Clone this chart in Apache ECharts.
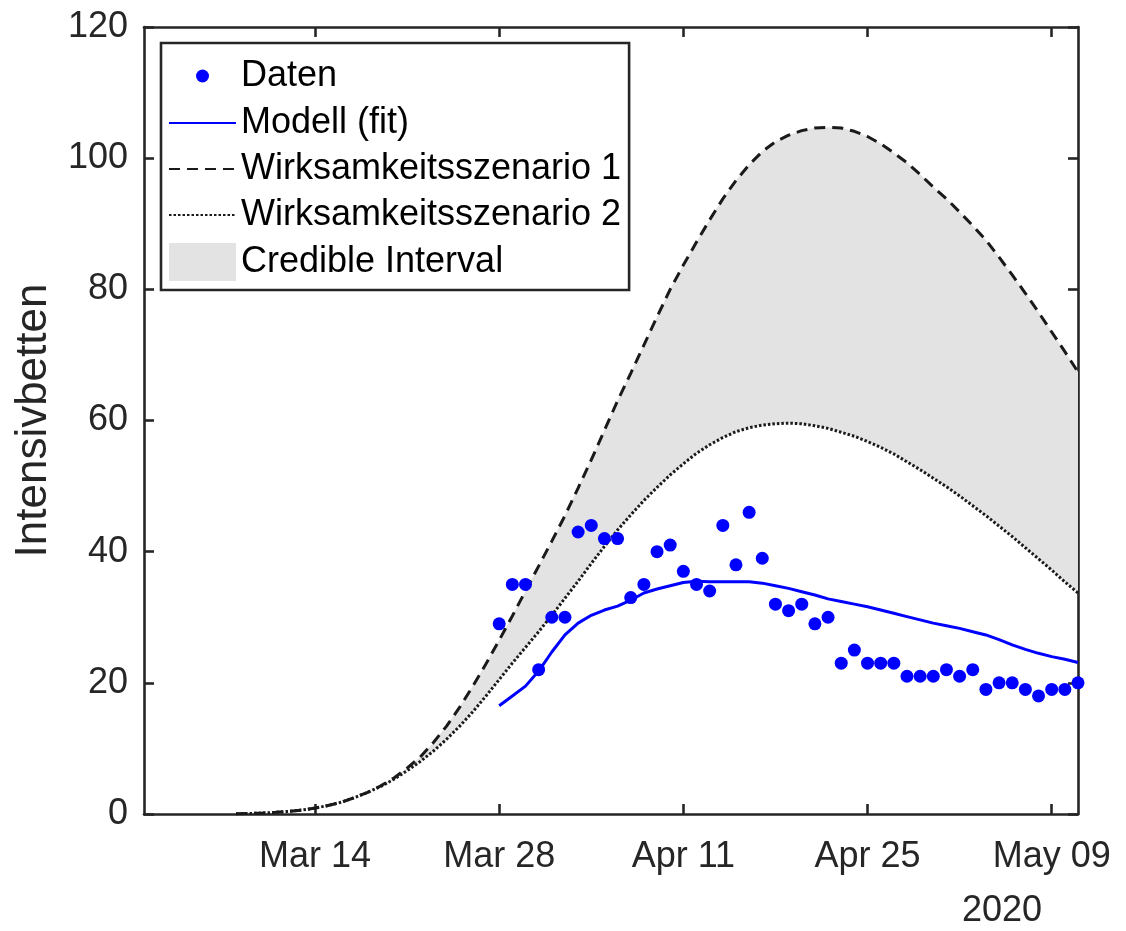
<!DOCTYPE html>
<html><head><meta charset="utf-8">
<script src="https://cdn.jsdelivr.net/npm/echarts@6/dist/echarts.min.js"></script>
<style>html,body{margin:0;padding:0;background:#fff}#c{width:1126px;height:931px}</style>
</head><body><div id="c"></div><script>
// ---- data ----
const axisStart = '2020-03-01';
const axisEnd = '2020-05-11';
const tickDates = ['2020-03-14', '2020-03-28', '2020-04-11', '2020-04-25', '2020-05-09'];
const tickLabels = ['Mar 14', 'Mar 28', 'Apr 11', 'Apr 25', 'May 09'];
const yearLabel = '2020';
const yMin = 0, yMax = 120, yStep = 20;

// daily observations starting 2020-03-28
const dataStart = '2020-03-28';
const observed = [29, 35, 35, 22,
  30, 30, 43, 44, 42, 42, 33, 35, 40, 41,
  37, 35, 34, 44, 38, 46, 39, 32, 31, 32,
  29, 30, 23, 25, 23, 23, 23, 21, 21, 21,
  22, 21, 22, 19, 20, 20, 19, 18, 19, 19, 20];
const modelFit = [16.5, 18.0, 19.5, 21.8,
  24.7, 27.3, 29.1, 30.3, 31.1, 31.7, 32.6, 33.7, 34.3, 34.8,
  35.3, 35.5, 35.4, 35.4, 35.4, 35.4, 35.2, 34.8, 34.4, 33.9,
  33.4, 32.8, 32.4, 32.0, 31.6, 31.1, 30.6, 30.1, 29.6, 29.1,
  28.7, 28.3, 27.8, 27.3, 26.6, 25.8, 25.1, 24.5, 24.0, 23.6, 23.1];

// scenario curves, daily from 2020-03-08
const scenarioStart = '2020-03-08';
const scenario1 = [0.04, 0.08, 0.15, 0.25, 0.4, 0.6, 0.9, 1.3, 1.8, 2.5,
  3.3, 4.3, 5.5, 7.0, 8.7, 10.9, 13.4, 16.3, 19.5, 22.9,
  26.5, 30.2, 34.0, 37.8, 41.6, 45.5, 49.7, 54.0, 58.5, 63.0,
  67.2, 71.5, 75.8, 80.0, 83.7, 87.2, 90.6, 93.8, 96.6, 99.0,
  101.0, 102.5, 103.5, 104.2, 104.6, 104.7, 104.6, 104.1, 103.3, 102.2,
  100.8, 99.3, 97.5, 95.6, 93.8, 91.8, 89.7, 87.5, 84.9, 82.2,
  79.4, 76.5, 73.5, 70.5, 67.4];
const scenario2 = [0.04, 0.08, 0.15, 0.25, 0.4, 0.6, 0.9, 1.3, 1.8, 2.5,
  3.3, 4.2, 5.3, 6.6, 8.0, 9.6, 11.4, 13.4, 15.6, 18.0,
  20.5, 23.0, 25.4, 27.8, 30.3, 32.9, 35.5, 38.2, 40.8, 43.3,
  45.6, 47.8, 49.8, 51.7, 53.4, 55.0, 56.3, 57.4, 58.3, 58.9,
  59.3, 59.5, 59.6, 59.5, 59.2, 58.8, 58.2, 57.6, 56.8, 55.9,
  54.9, 53.7, 52.5, 51.2, 49.9, 48.5, 47.0, 45.5, 43.9, 42.3,
  40.6, 38.9, 37.2, 35.4, 33.7];

// ---- helpers ----
const DAY = 86400000;
const origin = Date.parse(axisStart);
const dayIdx = s => Math.round((Date.parse(s) - origin) / DAY);
const tickVals = tickDates.map(dayIdx);
const d0 = dayIdx(dataStart), s0 = dayIdx(scenarioStart);

const FONT = "'Liberation Sans', Arial, Helvetica, sans-serif";
const AX = '#262626';
const AXW = 2.6;

const obsData = observed.map((v, i) => [d0 + i, v]);
const fitData = modelFit.map((v, i) => [d0 + i, v]);
const s1Data = scenario1.map((v, i) => [s0 + i, v]);
const s2Data = scenario2.map((v, i) => [s0 + i, v]);

const chart = echarts.init(document.getElementById('c'), null, {renderer: 'canvas'});

function xAxisDef(pos, showLabel) {
  return {
    type: 'value', position: pos, min: dayIdx(axisStart), max: dayIdx(axisEnd),
    axisLine: {show: true, onZero: false, lineStyle: {color: AX, width: AXW}},
    axisTick: {show: true, inside: true, length: 10, customValues: tickVals, lineStyle: {color: AX, width: AXW}},
    splitLine: {show: false},
    axisLabel: showLabel ? {
      show: true, customValues: tickVals, margin: 25,
      fontSize: 36, fontFamily: FONT, color: AX,
      formatter: v => tickLabels[tickVals.indexOf(Math.round(v))] || ''
    } : {show: false}
  };
}
function yAxisDef(pos, showLabel) {
  const a = {
    type: 'value', position: pos, min: yMin, max: yMax, interval: yStep,
    axisLine: {show: true, onZero: false, lineStyle: {color: AX, width: AXW}},
    axisTick: {show: true, inside: true, length: 10, lineStyle: {color: AX, width: AXW}},
    splitLine: {show: false},
    axisLabel: showLabel ? {show: true, margin: 16, fontSize: 36, fontFamily: FONT, color: AX} : {show: false}
  };
  if (showLabel) {
    a.name = 'Intensivbetten';
    a.nameLocation = 'middle';
    a.nameRotate = 90;
    a.nameGap = 88;
    a.nameTextStyle = {fontSize: 44, fontFamily: FONT, color: AX};
  }
  return a;
}

chart.setOption({
  animation: false,
  backgroundColor: '#fff',
  grid: {left: 144, right: 48, top: 27, bottom: 117, containLabel: false, outerBoundsMode: 'none'},
  xAxis: [xAxisDef('bottom', true), xAxisDef('top', false)],
  yAxis: [yAxisDef('left', true), yAxisDef('right', false)],
  legend: {
    orient: 'vertical', left: 161, top: 43,
    padding: [14, 8, 9, 7],
    itemWidth: 67, itemHeight: 38, itemGap: 10,
    backgroundColor: '#fff', borderColor: AX, borderWidth: 2.6,
    selectedMode: false,
    textStyle: {fontSize: 36, fontFamily: FONT, color: '#000'},
    data: [
      {name: 'Daten', icon: 'path://M0,0M67,38M27,19A6.5,6.5 0 1 0 40,19A6.5,6.5 0 1 0 27,19Z', itemStyle: {color: '#0000ff', opacity: 1}},
      {name: 'Modell (fit)', itemStyle: {opacity: 0}},
      {name: 'Wirksamkeitsszenario 1', itemStyle: {opacity: 0}},
      {name: 'Wirksamkeitsszenario 2', itemStyle: {opacity: 0}},
      {name: 'Credible Interval', icon: 'rect', itemStyle: {color: '#e3e3e3', opacity: 1}}
    ]
  },
  graphic: [{
    type: 'text', left: 962, top: 893, z: 100,
    style: {text: yearLabel, fontSize: 36, fontFamily: FONT, fill: AX}
  }],
  series: [
    {
      name: 'Credible Interval', type: 'custom', coordinateSystem: 'cartesian2d',
      data: [[s0, 0]], itemStyle: {color: '#e3e3e3'}, z: 1, silent: true,
      renderItem: function (params, api) {
        const upper = s1Data.map(p => api.coord(p));
        const lower = s2Data.slice().reverse().map(p => api.coord(p));
        return {type: 'polygon', shape: {points: upper.concat(lower)}, style: {fill: '#e3e3e3', stroke: null}};
      }
    },
    {
      name: 'Wirksamkeitsszenario 1', type: 'line', data: s1Data,
      showSymbol: false, symbol: 'none', itemStyle: {color: '#1a1a1a'},
      lineStyle: {color: '#1a1a1a', width: 3, type: [11, 7]}, z: 3
    },
    {
      name: 'Wirksamkeitsszenario 2', type: 'line', data: s2Data,
      showSymbol: false, symbol: 'none', itemStyle: {color: '#1a1a1a'},
      lineStyle: {color: '#1a1a1a', width: 3, type: [2.5, 2]}, z: 3
    },
    {
      name: 'Modell (fit)', type: 'line', data: fitData,
      showSymbol: false, symbol: 'none', itemStyle: {color: '#0000ff'},
      lineStyle: {color: '#0000ff', width: 3}, z: 4
    },
    {
      name: 'Daten', type: 'scatter', data: obsData, clip: false,
      symbol: 'circle', symbolSize: 13, itemStyle: {color: '#0000ff', opacity: 1}, z: 5
    }
  ]
});
</script></body></html>
